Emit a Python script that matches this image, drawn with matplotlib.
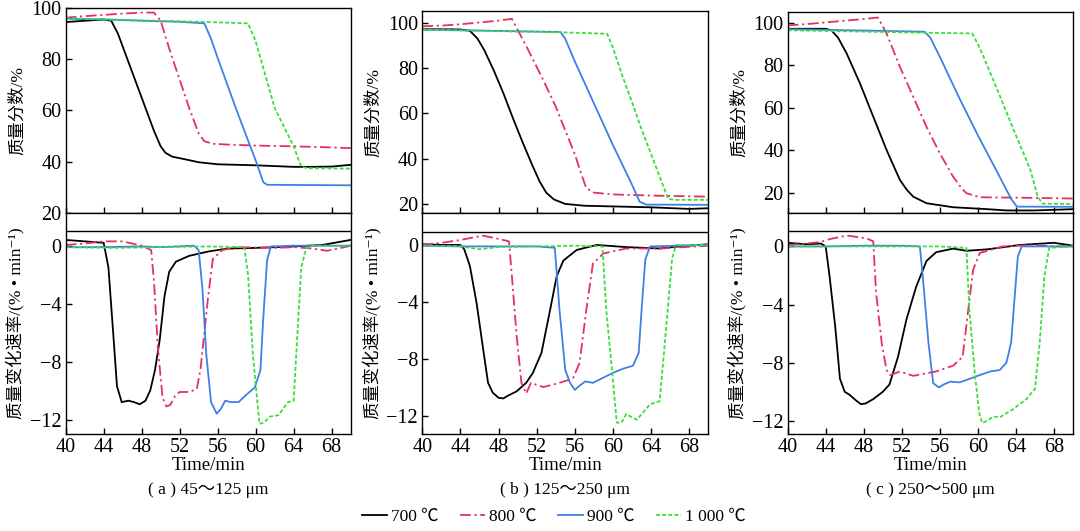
# Curvas TG / DTG em tres faixas granulometricas
import numpy as np
import matplotlib.pyplot as plt

plt.rcParams['font.family'] = ['Liberation Serif', 'Noto Sans CJK SC', 'DejaVu Sans']
plt.rcParams['axes.unicode_minus'] = True

temps = ['700 ℃', '800 ℃', '900 ℃', '1 000 ℃']
cores = ['black', '#e5305f', '#3f7fe6', '#3ddc3d']
estilos = ['-', (0, (6, 2, 1.2, 2)), '-', (0, (2.2, 1.2))]
legendas_sub = ['( a ) 45～125 μm', '( b ) 125～250 μm', '( c ) 250～500 μm']

# ---------- (a) 45-125 um ----------
a_m700_t = [40, 42, 44, 44.8, 45.5, 46.5, 47.5, 48.5, 49.3, 50, 50.5, 51.2, 52.5, 54, 56, 60, 64, 66, 68, 70]
a_m700 = [94.5, 95, 95.5, 95, 90, 80, 70, 60, 52, 46, 43.5, 42, 41, 39.8, 39, 38.6, 38, 38, 38.1, 38.8]
a_m800_t = [40, 42, 44, 46, 48, 49.3, 50, 51, 52, 53, 54, 54.6, 55.5, 57, 60, 64, 67, 70]
a_m800 = [96.2, 96.8, 97.3, 97.8, 98.2, 98.2, 95, 83, 72, 61, 51, 48, 47, 46.7, 46.3, 46, 45.7, 45.3]
a_m900_t = [40, 44, 48, 52, 54.6, 55.3, 56, 58, 60, 60.8, 61.2, 70]
a_m900 = [95.8, 95.5, 95, 94.6, 94, 88, 80.5, 60, 40.5, 32, 31, 30.8]
a_m1000_t = [40, 45, 50, 55, 59.2, 60, 62, 64, 64.8, 65.5, 70]
a_m1000 = [96, 95.5, 95, 94.5, 94, 87, 61, 46, 38, 37.5, 37.3]

a_r700_t = [40, 42, 44, 44.5, 45, 45.4, 45.9, 46.6, 47.2, 47.8, 48.4, 48.9, 49.4, 49.9, 50.4, 50.9, 51.6, 53, 55, 57, 60, 64, 67, 70]
a_r700 = [0.4, 0.3, 0.2, -1.5, -6, -9.7, -10.8, -10.7, -10.8, -10.95, -10.7, -10, -8.6, -6.5, -3.5, -1.8, -1.1, -0.7, -0.4, -0.2, -0.15, -0.05, 0.05, 0.4]
a_r800_t = [40, 42, 44, 46, 48, 49, 49.3, 49.7, 50.2, 50.6, 51, 51.5, 52, 53, 53.8, 54.2, 54.6, 55, 55.5, 56.5, 58, 62, 64, 66, 67.5, 69, 70]
a_r800 = [0.05, 0.15, 0.3, 0.3, 0.0, -0.3, -2.5, -7, -10.5, -11.1, -11.0, -10.4, -10.1, -10.1, -9.9, -8.5, -6, -3.5, -0.9, -0.3, -0.1, -0.15, -0.1, -0.2, -0.35, -0.15, 0]
a_r900_t = [40, 44, 48, 50, 53.5, 54, 54.4, 54.8, 55.3, 55.9, 56.3, 56.8, 57.4, 58.2, 59, 59.9, 60.5, 60.8, 61.2, 61.6, 64, 70]
a_r900 = [-0.1, -0.1, -0.05, -0.1, 0.0, -0.3, -3, -7.5, -10.8, -11.6, -11.3, -10.7, -10.8, -10.8, -10.3, -9.8, -8.6, -5, -1, -0.05, 0.0, 0.0]
a_r1000_t = [40, 45, 50, 55, 58.8, 59.2, 59.7, 60.4, 60.9, 61.5, 62.4, 63.4, 64, 64.4, 64.8, 65.3, 66, 70]
a_r1000 = [-0.1, -0.15, -0.1, -0.05, -0.1, -2, -7.5, -12.3, -12.2, -11.8, -11.7, -10.8, -10.7, -6, -1.5, -0.2, 0.0, 0.0]

# ---------- (b) 125-250 um ----------
b_m700_t = [40, 42, 44, 45, 45.8, 46.5, 47.5, 48.5, 49.5, 50.5, 51.5, 52.3, 53, 53.8, 55, 57, 60, 64, 68, 70]
b_m700 = [97.2, 97.2, 97.1, 96.5, 93, 88, 79, 69, 58, 47.5, 37.5, 30, 25, 22, 20, 19.2, 18.9, 18.5, 17.8, 18.1]
b_m800_t = [40, 42, 44, 46, 48, 49.4, 50, 51, 52, 53, 54, 55, 56, 56.7, 57.2, 58, 60, 64, 70]
b_m800 = [98.5, 98.8, 99.4, 100.2, 101, 101.8, 97, 89, 80.6, 72, 63, 52.5, 42, 33, 27, 25, 24.2, 23.7, 23.2]
b_m900_t = [40, 45, 50, 54.5, 55, 56, 58, 60, 62, 62.8, 63.5, 70]
b_m900 = [97, 96.7, 96.3, 96, 93, 83, 64.5, 46, 28.5, 21, 19.7, 19.6]
b_m1000_t = [40, 45, 50, 55, 59.4, 60, 61, 62, 63, 64, 65, 65.8, 66.5, 70]
b_m1000 = [97, 96.6, 96.2, 95.8, 95.2, 89, 76.5, 65, 53, 42, 31, 22.2, 21.8, 21.8]

b_r700_t = [40, 42, 44, 44.4, 45, 45.7, 46.4, 46.9, 47.4, 48, 48.5, 49, 49.9, 50.9, 51.6, 52.5, 53.4, 54.1, 54.8, 56.2, 58.3, 61.4, 64.9, 67, 70]
b_r700 = [0.05, 0.0, 0.0, -0.3, -1.5, -4.1, -7.4, -9.7, -10.4, -10.75, -10.8, -10.6, -10.3, -9.7, -9, -7.6, -4.6, -2.2, -1.1, -0.35, 0.0, -0.15, -0.25, -0.1, 0.05]
b_r800_t = [40, 42, 44, 45.5, 46.4, 47.5, 48.5, 49.1, 49.4, 49.9, 50.4, 50.9, 51.4, 52.7, 54.4, 55.8, 56.5, 57.2, 57.9, 59, 61.4, 65, 70]
b_r800 = [0.0, 0.15, 0.35, 0.55, 0.65, 0.5, 0.35, 0.25, -2.2, -6.4, -9.7, -10.45, -9.7, -10, -9.7, -9.4, -8.3, -4.6, -1.3, -0.6, -0.25, -0.25, -0.05]
b_r900_t = [40, 44, 48, 52, 53.9, 54.4, 55, 55.5, 56, 56.5, 57.1, 57.9, 60, 61.1, 62.1, 62.7, 63, 63.4, 63.9, 70]
b_r900 = [-0.05, -0.1, -0.1, -0.1, -0.2, -4.6, -8.8, -9.7, -10.2, -9.9, -9.6, -9.7, -9, -8.7, -8.5, -7.6, -4.6, -1, -0.1, 0.0]
b_r1000_t = [40, 44, 46, 48, 52, 56, 58.9, 59.3, 59.9, 60.4, 60.9, 61.4, 62.5, 63.9, 64.9, 65.6, 66.2, 66.6, 70]
b_r1000 = [-0.05, -0.1, -0.3, -0.15, -0.1, -0.05, -0.1, -4.6, -8.8, -12.5, -12.5, -11.9, -12.3, -11.2, -11, -5.7, -1, 0.0, 0.0]

# ---------- (c) 250-500 um ----------
c_m700_t = [40, 42, 44, 44.6, 45.3, 46.2, 47.6, 49, 50.4, 51.3, 51.8, 52.5, 53.2, 54.6, 57.4, 61, 63, 66, 70]
c_m700 = [97.2, 97.2, 97.2, 96.5, 93, 85.6, 71.5, 55.8, 40.1, 31, 26, 21.5, 18.1, 15, 13.1, 12.2, 11.6, 11.6, 12.2]
c_m800_t = [40, 42, 44, 46, 48, 49.5, 50.4, 51.8, 53.2, 54.6, 56, 57.4, 58.3, 58.8, 60.2, 64.4, 70]
c_m800 = [98.8, 99.4, 100.2, 101, 101.8, 102.5, 95, 79.3, 65.2, 51, 38.5, 27.5, 22, 19.7, 17.8, 17.6, 17.2]
c_m900_t = [40, 45, 50, 54.4, 55, 56, 58, 60, 62, 63.5, 64.1, 70]
c_m900 = [97, 96.6, 96.2, 95.8, 93, 84, 65, 47, 30, 17, 13.4, 13.3]
c_m1000_t = [40, 45, 50, 55, 59.4, 60, 60.6, 62, 64, 65.5, 66.3, 66.8, 70]
c_m1000 = [96.5, 96.1, 95.7, 95.3, 95, 90, 84, 69, 47, 31, 18, 14.8, 14.6]

c_r700_t = [40, 42, 43.5, 44, 44.4, 45, 45.5, 46, 46.5, 47.2, 47.7, 48.2, 49, 50, 50.7, 51.6, 52.5, 53.5, 54.6, 55.6, 57.4, 58.8, 61, 64.4, 68, 70]
c_r700 = [0.25, 0.15, 0.2, 0.0, -2, -5.5, -9.1, -10, -10.2, -10.6, -10.85, -10.8, -10.5, -10, -9.5, -7.6, -5, -2.8, -1, -0.4, -0.15, -0.3, -0.2, 0.1, 0.25, 0.05]
c_r800_t = [40, 42, 43.4, 44.4, 45.5, 46.2, 47.3, 48.3, 49, 49.3, 49.9, 50.4, 50.8, 51.8, 53.2, 55.6, 57.4, 58.4, 59, 59.5, 60.2, 62.6, 66, 68, 70]
c_r800 = [0.1, 0.2, 0.3, 0.5, 0.65, 0.75, 0.65, 0.55, 0.35, -3.2, -6.7, -8.5, -8.85, -8.6, -8.9, -8.6, -8.2, -7.6, -4.3, -1.6, -0.45, 0.0, 0.1, 0.0, 0.0]
c_r900_t = [40, 44, 48, 52, 53.9, 54.2, 54.8, 55.3, 55.9, 56.4, 57.1, 58.1, 60.2, 61.3, 62.3, 63, 63.5, 63.9, 64.2, 64.6, 70]
c_r900 = [0.0, 0.0, 0.05, 0.05, 0.0, -2, -6.6, -9.4, -9.7, -9.5, -9.3, -9.35, -8.85, -8.6, -8.5, -8, -6.6, -3.2, -0.7, 0.0, 0.0]
c_r1000_t = [40, 44, 48, 52, 56, 58.8, 59.1, 59.7, 60.2, 60.5, 61.2, 61.6, 62.3, 63.7, 65.1, 66, 66.5, 67, 67.5, 70]
c_r1000 = [0.0, 0.0, 0.0, 0.0, 0.0, -0.1, -4.3, -8.9, -11.7, -12.15, -11.9, -11.7, -11.75, -11.2, -10.5, -9.8, -6.6, -2, -0.1, 0.0]

massa = [
    [(a_m700_t, a_m700), (a_m800_t, a_m800), (a_m900_t, a_m900), (a_m1000_t, a_m1000)],
    [(b_m700_t, b_m700), (b_m800_t, b_m800), (b_m900_t, b_m900), (b_m1000_t, b_m1000)],
    [(c_m700_t, c_m700), (c_m800_t, c_m800), (c_m900_t, c_m900), (c_m1000_t, c_m1000)],
]
taxa = [
    [(a_r700_t, a_r700), (a_r800_t, a_r800), (a_r900_t, a_r900), (a_r1000_t, a_r1000)],
    [(b_r700_t, b_r700), (b_r800_t, b_r800), (b_r900_t, b_r900), (b_r1000_t, b_r1000)],
    [(c_r700_t, c_r700), (c_r800_t, c_r800), (c_r900_t, c_r900), (c_r1000_t, c_r1000)],
]

# limites de cada painel
lim_massa = [(20, 100), (16, 105.2), (10.4, 105)]
lim_taxa = [(-13.0, 2.26), (-13.3, 2.25), (-12.9, 2.3)]
linha_sep = [1.02, 0.93, 1.03]
esquerda = [0.0608, 0.391, 0.7293]
largura = [0.2639, 0.2648, 0.2642]
topo = [0.985, 0.979, 0.977]

fig = plt.figure(figsize=(10.8, 5.31), dpi=100)
linhas = []
for i in range(3):
    ax1 = fig.add_axes([esquerda[i], 0.5989, largura[i], topo[i] - 0.5989])
    ax2 = fig.add_axes([esquerda[i], 0.1827, largura[i], 0.4162])
    for j in range(4):
        t, m = massa[i][j]
        ax1.plot(t, m, color=cores[j], ls=estilos[j], lw=1.3)
        t, r = taxa[i][j]
        l, = ax2.plot(t, r, color=cores[j], ls=estilos[j], lw=1.3)
        if i == 0:
            linhas.append(l)
    ax2.axhline(linha_sep[i], color='black', lw=1.0)

    for ax in (ax1, ax2):
        ax.set_xlim(40, 70)
        ax.set_xticks(np.arange(40, 70, 4))
        ax.tick_params(direction='in', length=4, width=1, labelsize=14.5, pad=3)
        for s in ax.spines.values():
            s.set_linewidth(1)
    ax1.set_ylim(lim_massa[i])
    ax1.set_yticks([20, 40, 60, 80, 100])
    ax1.tick_params(labelbottom=False)
    ax2.set_ylim(lim_taxa[i])
    ax2.set_yticks([0, -4, -8, -12])
    ax1.set_ylabel('质量分数/%', fontsize=12.5, labelpad=4)
    ax2.set_ylabel('质量变化速率/(% • min⁻¹)', fontsize=12.5, labelpad=4)
    ax2.set_xlabel('Time/min', fontsize=13.5, labelpad=0)
    ax2.text(0.5, -0.255, legendas_sub[i], transform=ax2.transAxes, ha='center', va='center', fontsize=12.5)

fig.legend(linhas, temps, loc='center', bbox_to_anchor=(0.513, 0.026), ncol=4, frameon=False,
           fontsize=12.5, handlelength=1.45, columnspacing=1.2, handletextpad=0.25)

plt.savefig('out.png', dpi=100)
